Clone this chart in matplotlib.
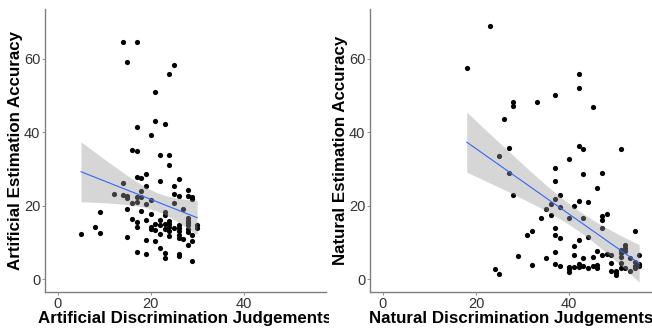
import matplotlib
matplotlib.use('Agg')
import matplotlib.pyplot as plt
import numpy as np
from matplotlib.transforms import Bbox, TransformedBbox

plt.rcParams['font.family'] = ['Liberation Sans', 'DejaVu Sans']

# artificial task: discrimination judgements vs estimation accuracy
art_x = [14, 17, 15, 25, 24, 21, 21, 23, 17, 20, 16, 17, 22, 24, 24, 17, 18, 19, 22, 26,
         14, 19, 25, 12, 14, 15, 15, 17, 18, 18, 20, 25, 26, 28, 28, 29, 29, 16, 17, 19,
         25, 15, 27, 9, 23, 18, 20, 23, 16, 22, 17, 19, 24, 28, 21, 20, 20, 22, 23, 24,
         24, 26, 28, 30, 30, 17, 23, 25, 26, 28, 8, 9, 5, 21, 22, 24, 26, 26, 27, 29,
         15, 19, 21, 29, 28, 22, 17, 23, 19, 26, 26, 23, 29, 28, 28, 28, 24, 26]
art_y = [64.4, 64.4, 59.0, 58.3, 55.8, 50.9, 43.0, 42.2, 41.3, 39.2, 35.2, 34.8, 33.8, 33.8, 31.1, 27.9, 27.6, 28.6, 26.8, 27.2,
         26.2, 25.3, 25.3, 23.3, 23.0, 22.5, 22.1, 22.3, 22.3, 24.0, 21.6, 23.3, 22.7, 24.2, 22.7, 22.3, 21.7, 20.6, 21.1, 20.5,
         20.7, 19.1, 19.1, 18.4, 18.2, 18.6, 17.8, 17.5, 16.4, 16.0, 15.6, 16.0, 15.7, 15.9, 14.9, 14.2, 13.6, 14.6, 15.1, 15.1,
         14.2, 14.6, 14.6, 14.6, 14.0, 14.1, 13.7, 14.0, 13.9, 13.7, 14.1, 12.6, 12.2, 13.3, 12.3, 11.8, 12.0, 11.3, 10.9, 12.0,
         11.4, 10.6, 10.4, 10.3, 9.2, 8.6, 7.5, 7.1, 6.8, 6.8, 6.4, 5.8, 4.9, 16.6, 15.2, 12.9, 13.0, 13.0]

# natural task
nat_x = [23, 18, 42, 42, 37, 33, 28, 28, 45, 26, 42, 43, 51, 27, 40, 25, 37, 27, 43, 47,
         37, 46, 28, 38, 37, 36, 42, 44, 41, 38, 35, 36, 34, 40, 43, 47, 48, 47, 37, 47,
         32, 54, 31, 37, 38, 44, 42, 41, 52, 52, 37, 46, 51, 52, 51, 29, 41, 47, 49, 48,
         55, 35, 43, 45, 51, 53, 37, 38, 32, 42, 43, 45, 46, 46, 44, 42, 41, 40, 40, 40,
         49, 51, 54, 55, 55, 49, 50, 50, 50, 51, 52, 53, 54, 54, 24, 25]
nat_y = [68.8, 57.4, 55.7, 52.0, 50.0, 48.3, 48.3, 47.2, 46.9, 43.5, 36.1, 35.3, 35.3, 35.7, 32.7, 33.4, 30.3, 28.8, 28.5, 28.9,
         26.8, 24.8, 22.8, 23.0, 21.7, 20.5, 21.2, 21.1, 19.9, 19.5, 19.2, 17.4, 16.7, 16.5, 16.6, 17.3, 17.6, 16.0, 13.8, 13.8,
         13.1, 13.0, 12.0, 12.0, 11.3, 11.6, 10.7, 9.0, 9.2, 8.6, 7.3, 7.7, 7.9, 7.7, 7.0, 6.4, 6.7, 6.5, 6.5, 6.8,
         6.6, 5.8, 5.7, 5.9, 5.9, 5.7, 4.2, 3.7, 3.9, 4.2, 3.7, 3.7, 3.9, 2.9, 2.9, 3.3, 3.3, 3.3, 1.9, 2.7,
         4.3, 4.3, 4.7, 4.1, 3.6, 2.3, 2.3, 1.2, 1.8, 2.9, 2.9, 2.3, 2.9, 3.6, 2.7, 1.4]


def lm_band(x, y, n=80):
    # linear fit with 95% confidence band, like geom_smooth(method='lm')
    x = np.asarray(x, float)
    y = np.asarray(y, float)
    b, a = np.polyfit(x, y, 1)
    res = y - (a + b * x)
    s = np.sqrt(np.sum(res ** 2) / (len(x) - 2))
    xs = np.linspace(x.min(), x.max(), n)
    se = s * np.sqrt(1 / len(x) + (xs - x.mean()) ** 2 / np.sum((x - x.mean()) ** 2))
    fit = a + b * xs
    return xs, fit, fit - 1.985 * se, fit + 1.985 * se


fig = plt.figure(figsize=(6.52, 3.28), dpi=100)
ax1 = fig.add_axes([45 / 652, 36 / 328, 281 / 652, 283 / 328])
ax2 = fig.add_axes([370 / 652, 36 / 328, 282 / 652, 283 / 328])

panels = [(ax1, art_x, art_y, 'Artificial Discrimination Judgements', 'Artificial Estimation Accuracy'),
          (ax2, nat_x, nat_y, 'Natural Discrimination Judgements', 'Natural Estimation Accuracy')]

for ax, x, y, xl, yl in panels:
    ax.scatter(x, y, s=14, color='black', linewidths=0, zorder=2)
    xs, fit, lo, hi = lm_band(x, y)
    ax.fill_between(xs, lo, hi, color='#999999', alpha=0.4, linewidth=0, zorder=3)
    ax.plot(xs, fit, color='#3366FF', linewidth=0.8, zorder=4)
    ax.set_xlim(-2.75, 57.75)
    ax.set_ylim(-3.5, 73.5)
    ax.set_xticks([0, 20, 40])
    ax.set_yticks([0, 20, 40, 60])
    for side in ['top', 'right']:
        ax.spines[side].set_visible(False)
    for side in ['left', 'bottom']:
        ax.spines[side].set_color('#7f7f7f')
        ax.spines[side].set_linewidth(1.0)
    ax.tick_params(length=2, width=0.6, color='#7f7f7f', labelsize=10.5,
                   labelcolor='#333333', pad=1.5)
    ax.set_xlabel(xl, fontsize=12.2, fontweight='bold', labelpad=0)
    ax.set_ylabel(yl, fontsize=12.2, fontweight='bold', labelpad=0.5)

# left x label is cut off where the right panel starts
lbl = ax1.xaxis.label
lbl.set_clip_box(TransformedBbox(Bbox([[0, 0], [329 / 652, 1]]), fig.transFigure))
lbl.set_clip_on(True)

plt.savefig('out.png', dpi=100)
